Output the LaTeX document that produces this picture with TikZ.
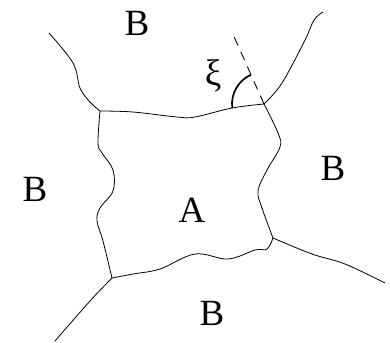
\documentclass[tikz,border=0pt]{standalone}
\usepackage{fontspec}
\setmainfont{Liberation Serif}
\begin{document}
\begin{tikzpicture}[x=1pt,y=-1pt,
  edge/.style={line width=0.8pt, line join=round},
  lbl/.style={font=\fontsize{37}{40}\selectfont, inner sep=0pt}]
\useasboundingbox (0,0) rectangle (390,342);
\coordinate (TL) at (100,111);
\coordinate (TR) at (264,104);
\coordinate (BR) at (273,238);
\coordinate (BL) at (112,278);
% outer boundaries
\draw[edge] plot[smooth, tension=0.6] coordinates {(49,33) (73,63) (80,88) (90,102) (100,111)};
\draw[edge] plot[smooth, tension=0.6] coordinates {(264,104) (282,83) (305,40) (314,20) (323,12)};
\draw[edge] plot[smooth, tension=0.6] coordinates {(273,238) (312,254) (345,264) (385,283)};
\draw[edge] plot[smooth, tension=0.6] coordinates {(112,278) (90,301) (55,341)};
% grain A boundary
\draw[edge] plot[smooth, tension=0.6] coordinates {(100,111) (133,112) (177,117) (195,117) (232,108) (264,104)};
\draw[edge] plot[smooth, tension=0.6] coordinates {(264,104) (278,133) (280,147) (267,170) (258,191) (262,208) (273,238)};
\draw[edge] plot[smooth, tension=0.6] coordinates {(273,238) (267,249) (255,250) (228,259) (195,254) (160,269) (133,274) (112,278)};
\draw[edge] plot[smooth, tension=0.6] coordinates {(100,111) (98,143) (102,153) (113,170) (113,191) (100,208) (97,221) (103,241) (112,278)};
% dashed tangent and angle
\coordinate (D) at (232,32);
\draw[line width=0.9pt, dash pattern=on 9pt off 7pt] (TR) -- (D);
\draw[line width=1.7pt] (TR) ++(173:32) arc[start angle=173, end angle=246, radius=32];
% labels
\node[lbl] (b1) at (137,23) {B};
\node[lbl] (b2) at (35,189) {B};
\node[lbl] (b3) at (333,168) {B};
\node[lbl] (b4) at (212,313) {B};
\node[lbl] (a) at (192,210) {A};
\node[lbl] (xi) at (213,76) {ξ};
\end{tikzpicture}
\end{document}
